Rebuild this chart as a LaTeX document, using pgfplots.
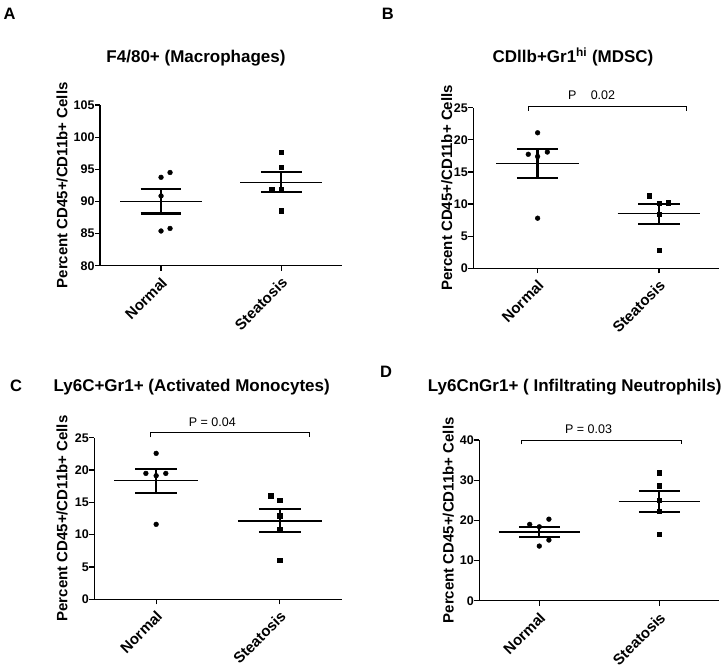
\documentclass[border=0pt]{standalone}
\usepackage{pgfplots}
\pgfplotsset{compat=1.18}
\usepackage{fontspec}
\setmainfont{Liberation Sans}

\pgfplotsset{
  panel/.style={
    scale only axis, anchor=south west,
    axis x line=bottom, axis y line=left,
    axis line style={-, line width=1.4pt},
    tick align=outside, major tick length=5pt,
    tick style={line width=1.2pt, black},
    xtick={0,1}, xticklabels={Normal,Steatosis},
    /pgf/number format/assume math mode=true,
    yticklabel style={font=\fontsize{12.5}{14}\selectfont\bfseries, xshift=3pt},
    xticklabel style={font=\fontsize{15}{17}\selectfont\bfseries, rotate=45, anchor=north east, xshift=-1pt},
    ylabel={Percent CD45+/CD11b+ Cells},
    ylabel style={font=\fontsize{15}{17}\selectfont\bfseries, anchor=center},
    clip=false,
  },
  meanline/.style={black, line width=1.3pt},
  semline/.style={black, line width=2.3pt},
  dots/.style={only marks, mark=*, mark size=2.4pt, black},
  sq/.style={only marks, mark=square*, mark size=2.2pt, black},
  brk/.style={black, line width=0.8pt},
}

\begin{document}
\begin{tikzpicture}
\path[use as bounding box] (0,0) rectangle (725pt,-670pt);

% ---------------- Panel A ----------------
\begin{axis}[panel, width=242pt, height=160.7pt, at={(100pt,-265.7pt)},
  xmin=-0.508, xmax=1.506, ymin=80, ymax=105, ytick={80,85,...,105},
  ylabel style={at={(axis description cs:-0.157,0.5)}}]
\addplot[dots] coordinates {(0,93.75) (0.075,94.5) (0,90.85) (0,85.4) (0.075,85.8)};
\addplot[meanline] coordinates {(-0.34,89.96) (0.34,89.96)};
\addplot[semline] coordinates {(-0.17,91.9) (0.17,91.9)};
\addplot[semline] coordinates {(-0.17,88.1) (0.17,88.1)};
\addplot[semline] coordinates {(0,88.1) (0,91.9)};
\addplot[sq] coordinates {(1,97.64) (1,95.3) (0.922,91.9) (1,91.9) (1,88.56)};
\addplot[meanline] coordinates {(0.66,92.91) (1.34,92.91)};
\addplot[semline] coordinates {(0.83,94.53) (1.17,94.53)};
\addplot[semline] coordinates {(0.83,91.42) (1.17,91.42)};
\addplot[semline] coordinates {(1,91.42) (1,94.53)};
\end{axis}

% ---------------- Panel B ----------------
\begin{axis}[panel, width=246pt, height=160.6pt, at={(473.3pt,-268.3pt)},
  xmin=-0.53, xmax=1.497, ymin=0, ymax=25, ytick={0,5,...,25},
  ylabel style={at={(axis description cs:-0.1077,0.5)}}]
\addplot[dots] coordinates {(0,21.1) (-0.077,17.75) (0,17.4) (0.08,18.1) (0,7.8)};
\addplot[meanline] coordinates {(-0.34,16.34) (0.34,16.34)};
\addplot[semline] coordinates {(-0.17,18.57) (0.17,18.57)};
\addplot[semline] coordinates {(-0.17,14.06) (0.17,14.06)};
\addplot[semline] coordinates {(0,14.06) (0,18.57)};
\addplot[sq] coordinates {(0.918,11.3) (1,10.12) (1.077,10.21) (1,8.41) (1,2.85)};
\addplot[meanline] coordinates {(0.66,8.5) (1.34,8.5)};
\addplot[semline] coordinates {(0.83,10.0) (1.17,10.0)};
\addplot[semline] coordinates {(0.83,6.94) (1.17,6.94)};
\addplot[semline] coordinates {(1,6.94) (1,10.0)};
\addplot[brk] coordinates {(-0.08,24.5) (-0.08,25.2) (1.225,25.2) (1.225,24.5)};
\node[anchor=base, font=\fontsize{12.5}{14}\selectfont] at (axis cs:0.445,26.3) {P\phantom{ = }0.02};
\end{axis}

% ---------------- Panel C ----------------
\begin{axis}[panel, width=247.4pt, height=161.6pt, at={(94.3pt,-599.3pt)},
  xmin=-0.5, xmax=1.5, ymin=0, ymax=25, ytick={0,5,...,25},
  ylabel style={at={(axis description cs:-0.1306,0.5)}}]
\addplot[dots] coordinates {(0,22.58) (-0.083,19.48) (0,19.12) (0.078,19.48) (0,11.6)};
\addplot[meanline] coordinates {(-0.34,18.35) (0.34,18.35)};
\addplot[semline] coordinates {(-0.17,20.15) (0.17,20.15)};
\addplot[semline] coordinates {(-0.17,16.49) (0.17,16.49)};
\addplot[semline] coordinates {(0,16.49) (0,20.15)};
\addplot[sq] coordinates {(0.925,16.03) (1,15.36) (1,12.94) (1,10.88) (1,6.08)};
\addplot[meanline] coordinates {(0.66,12.11) (1.34,12.11)};
\addplot[semline] coordinates {(0.83,13.92) (1.17,13.92)};
\addplot[semline] coordinates {(0.83,10.36) (1.17,10.36)};
\addplot[semline] coordinates {(1,10.36) (1,13.92)};
\addplot[brk] coordinates {(-0.043,25.06) (-0.043,25.83) (1.242,25.83) (1.242,25.06)};
\node[anchor=base, font=\fontsize{12.5}{14}\selectfont] at (axis cs:0.454,26.7) {P = 0.04};
\end{axis}

% ---------------- Panel D ----------------
\begin{axis}[panel, width=240pt, height=160.7pt, at={(479.3pt,-600.7pt)},
  xmin=-0.5, xmax=1.5, ymin=0, ymax=40, ytick={0,10,...,40},
  ylabel style={at={(axis description cs:-0.1288,0.5)}}]
\addplot[dots] coordinates {(-0.08,19.0) (0,18.4) (0.08,20.3) (0.08,15.1) (0,13.6)};
\addplot[meanline] coordinates {(-0.34,17.1) (0.34,17.1)};
\addplot[semline] coordinates {(-0.17,18.4) (0.17,18.4)};
\addplot[semline] coordinates {(-0.17,15.9) (0.17,15.9)};
\addplot[semline] coordinates {(0,15.9) (0,18.4)};
\addplot[sq] coordinates {(1,31.87) (1,28.63) (1,25.06) (1,22.32) (1,16.6)};
\addplot[meanline] coordinates {(0.66,24.73) (1.34,24.73)};
\addplot[semline] coordinates {(0.83,27.39) (1.17,27.39)};
\addplot[semline] coordinates {(0.83,22.16) (1.17,22.16)};
\addplot[semline] coordinates {(1,22.16) (1,27.39)};
\addplot[brk] coordinates {(-0.147,38.9) (-0.147,40.0) (1.18,40.0) (1.18,38.9)};
\node[anchor=base, font=\fontsize{12.5}{14}\selectfont] at (axis cs:0.41,41.7) {P = 0.03};
\end{axis}

% ---------------- Titles and panel letters ----------------
\begin{scope}[font=\fontsize{17}{20}\selectfont\bfseries]
\node[anchor=base] at (196pt,-62.7pt) {F4/80+ (Macrophages)};
\node[anchor=base] at (573pt,-62.7pt) {CDllb+Gr1\textsuperscript{hi} (MDSC)};
\node[anchor=base] at (191.7pt,-391pt) {Ly6C+Gr1+ (Activated Monocytes)};
\node[anchor=base] at (574.7pt,-391pt) {Ly6CnGr1+ ( Infiltrating Neutrophils)};
\end{scope}
\begin{scope}[font=\fontsize{16.5}{18}\selectfont\bfseries, inner sep=0pt]
\node[anchor=base west] at (3.3pt,-19.3pt) {A};
\node[anchor=base west] at (381.7pt,-19.3pt) {B};
\node[anchor=base west] at (10pt,-391.7pt) {C};
\node[anchor=base west] at (380pt,-377.7pt) {D};
\end{scope}
\end{tikzpicture}
\end{document}
